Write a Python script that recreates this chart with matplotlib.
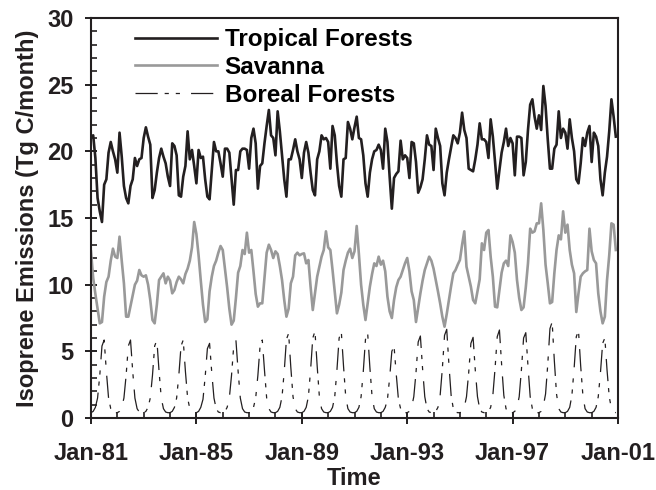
import numpy as np
import matplotlib
matplotlib.use("Agg")
import matplotlib.pyplot as plt
from matplotlib.ticker import MultipleLocator, FixedLocator

# monthly emissions, Jan-81 .. Dec-00 (Tg C/month)
tropical = [
    21.1, 21.2, 19.5, 16.5, 15.5, 14.7, 17.5, 17.9, 19.9, 20.7, 20.0, 19.4,
    18.4, 21.4, 19.6, 17.4, 16.5, 16.1, 17.4, 17.9, 19.5, 18.9, 19.4, 19.5,
    21.0, 21.8, 21.1, 20.5, 16.5, 17.1, 18.4, 19.5, 20.2, 19.6, 19.1, 18.1,
    17.4, 20.6, 20.4, 19.7, 16.7, 16.6, 18.1, 18.9, 21.5, 19.4, 20.1, 18.9,
    17.6, 20.1, 19.5, 19.6, 17.9, 16.6, 16.4, 18.6, 20.7, 20.0, 20.0, 19.1,
    18.1, 20.2, 20.2, 19.9, 17.9, 16.0, 18.6, 18.6, 20.0, 20.2, 20.2, 20.1,
    18.7, 21.0, 21.7, 20.6, 17.2, 18.9, 19.1, 20.6, 21.9, 23.1, 21.2, 21.0,
    19.7, 23.0, 21.5, 19.7, 17.9, 16.6, 19.4, 19.4, 20.1, 20.9, 20.0, 19.4,
    18.0, 19.9, 20.7, 19.9, 18.4, 17.1, 16.7, 19.4, 20.0, 21.2, 20.9, 21.0,
    20.7, 18.7, 21.9, 21.2, 19.1, 17.4, 16.6, 19.4, 19.5, 22.2, 21.7, 20.9,
    21.8, 22.6, 21.0, 20.9, 19.7, 17.6, 16.6, 18.4, 19.4, 20.0, 20.1, 20.5,
    20.1, 18.7, 21.7, 20.7, 18.1, 15.7, 18.0, 18.3, 18.5, 20.8, 19.4, 19.7,
    19.5, 18.0, 20.7, 20.6, 19.2, 16.9, 17.3, 17.9, 19.4, 21.2, 20.5, 20.4,
    18.6, 21.7, 21.0, 20.4, 17.6, 16.7, 18.4, 19.4, 20.3, 21.2, 21.0, 20.6,
    21.4, 22.9, 21.6, 21.0, 18.7, 18.6, 18.5, 19.4, 20.5, 22.1, 20.9, 20.9,
    20.7, 19.5, 22.4, 21.1, 19.2, 17.2, 18.6, 19.9, 20.7, 21.7, 20.4, 21.0,
    20.6, 18.2, 21.1, 21.1, 21.0, 18.2, 19.2, 21.6, 23.5, 23.9, 22.6, 21.7,
    22.7, 21.6, 24.9, 23.4, 20.9, 18.7, 18.7, 20.2, 20.5, 23.0, 21.0, 21.7,
    21.4, 20.2, 22.4, 21.0, 20.0, 17.9, 17.6, 19.1, 21.0, 20.4, 21.4, 21.9,
    19.2, 21.4, 21.1, 20.4, 17.9, 16.7, 18.4, 19.6, 21.5, 23.9, 22.6, 21.1,
]

savanna = [
    12.5, 10.5, 9.3, 8.2, 7.1, 7.2, 9.1, 10.2, 10.6, 11.8, 12.7, 12.1,
    12.0, 13.6, 11.8, 10.1, 7.6, 7.6, 8.4, 9.2, 10.0, 10.3, 11.1, 10.7,
    10.6, 10.7, 10.0, 8.85, 7.35, 7.1, 8.5, 10.35, 10.6, 10.85, 10.1, 10.6,
    10.3, 9.35, 9.6, 10.2, 10.6, 10.4, 10.1, 10.8, 11.2, 11.8, 12.8, 14.7,
    13.8, 12.2, 10.3, 8.5, 7.2, 7.4, 9.5, 10.6, 11.4, 11.8, 12.4, 12.9,
    12.6, 11.2, 9.8, 8.2, 7.0, 7.3, 9.0, 10.9, 11.4, 12.6, 12.3, 13.9,
    12.4, 12.6, 11.0, 9.3, 8.35, 8.6, 8.6, 10.5, 12.4, 13.0, 12.6, 12.0,
    12.5, 12.3, 11.4, 10.35, 8.85, 7.6, 8.2, 10.1, 10.6, 12.2, 12.4, 12.2,
    12.3, 12.35, 11.6, 11.85, 9.85, 8.1, 9.35, 10.6, 11.35, 12.1, 12.6, 14.0,
    12.8, 12.6, 11.1, 9.5, 7.85, 8.5, 9.4, 11.1, 11.8, 12.4, 12.7, 12.0,
    12.5, 14.4, 12.3, 10.0, 8.5, 7.35, 8.6, 9.85, 10.8, 11.6, 11.4, 12.1,
    11.5, 11.8, 11.0, 9.1, 8.0, 7.5, 8.85, 9.8, 10.35, 10.6, 11.1, 11.6,
    12.0, 11.0, 9.5, 8.85, 7.2, 8.3, 9.35, 10.3, 11.1, 11.6, 12.1, 11.8,
    11.2, 10.35, 9.5, 8.6, 7.6, 6.85, 7.8, 8.85, 9.9, 10.85, 11.1, 11.5,
    11.85, 13.0, 14.0, 11.35, 10.6, 9.85, 8.85, 8.6, 9.5, 10.4, 13.1, 12.6,
    13.9, 14.1, 12.1, 10.6, 8.35, 8.3, 9.6, 10.9, 11.6, 11.8, 11.4, 13.7,
    13.2, 12.4, 10.35, 9.0, 8.1, 8.3, 9.8, 11.6, 14.2, 13.9, 14.0, 14.6,
    14.6, 16.1, 14.1, 11.5, 10.1, 8.6, 8.7, 10.85, 12.6, 13.7, 13.4, 15.5,
    13.9, 14.5, 12.6, 11.5, 10.85, 7.95, 9.35, 10.6, 10.85, 11.0, 11.1, 14.2,
    12.5, 11.85, 11.6, 9.35, 8.0, 7.1, 7.6, 10.35, 12.2, 14.6, 14.5, 12.6,
]

boreal = [
    0.4, 0.5, 0.8, 1.5, 3.2, 5.4, 5.85, 3.5, 1.5, 0.7, 0.45, 0.4,
    0.4, 0.5, 0.8, 1.5, 3.2, 5.4, 5.85, 3.5, 1.5, 0.7, 0.45, 0.4,
    0.4, 0.5, 0.8, 1.5, 3.2, 5.4, 5.85, 3.5, 1.5, 0.7, 0.45, 0.4,
    0.4, 0.5, 0.8, 1.5, 3.2, 5.4, 5.85, 3.5, 1.5, 0.7, 0.45, 0.4,
    0.4, 0.5, 0.8, 1.4, 3.1, 5.2, 5.6, 3.4, 1.5, 0.7, 0.45, 0.4,
    0.4, 0.5, 0.8, 1.5, 3.2, 5.4, 5.85, 3.5, 1.5, 0.7, 0.45, 0.4,
    0.4, 0.5, 0.8, 1.5, 3.2, 5.4, 5.85, 3.6, 1.5, 0.7, 0.45, 0.4,
    0.4, 0.5, 0.8, 1.6, 3.5, 5.9, 6.35, 3.8, 1.6, 0.7, 0.45, 0.4,
    0.4, 0.5, 0.8, 1.6, 3.6, 6.0, 6.5, 3.9, 1.6, 0.7, 0.45, 0.4,
    0.4, 0.5, 0.8, 1.6, 3.6, 6.0, 6.45, 3.9, 1.6, 0.7, 0.45, 0.4,
    0.4, 0.5, 0.8, 1.6, 3.5, 5.9, 6.35, 3.8, 1.6, 0.7, 0.45, 0.4,
    0.4, 0.5, 0.8, 1.4, 3.0, 5.0, 5.4, 3.3, 1.4, 0.7, 0.45, 0.4,
    0.4, 0.5, 0.8, 1.6, 3.4, 5.7, 6.15, 3.7, 1.6, 0.7, 0.45, 0.4,
    0.4, 0.5, 0.8, 1.7, 3.7, 6.2, 6.65, 4.0, 1.7, 0.7, 0.45, 0.4,
    0.4, 0.5, 0.8, 1.6, 3.4, 5.6, 6.05, 3.6, 1.6, 0.7, 0.45, 0.4,
    0.4, 0.5, 0.8, 1.7, 3.7, 6.1, 6.6, 4.0, 1.7, 0.7, 0.45, 0.4,
    0.4, 0.5, 0.8, 1.6, 3.6, 6.0, 6.4, 3.9, 1.6, 0.7, 0.45, 0.4,
    0.4, 0.5, 0.9, 1.8, 4.0, 6.7, 7.2, 4.3, 1.8, 0.7, 0.45, 0.4,
    0.4, 0.5, 0.8, 1.7, 3.7, 6.1, 6.55, 3.9, 1.7, 0.7, 0.45, 0.4,
    0.4, 0.5, 0.8, 1.6, 3.4, 5.6, 6.0, 3.6, 1.6, 0.7, 0.45, 0.4,
]

tick_years = ["Jan-81", "Jan-85", "Jan-89", "Jan-93", "Jan-97", "Jan-01"]

plt.rcParams["font.family"] = ["Liberation Sans", "DejaVu Sans"]
plt.rcParams["font.weight"] = "bold"
plt.rcParams["lines.scale_dashes"] = False
ink = "#231f20"

months = np.arange(len(tropical))

fig = plt.figure(figsize=(6.56, 4.90), dpi=100)
ax = fig.add_axes([0.1387, 0.1469, 0.8034, 0.8164])

ax.plot(months, tropical, color=ink, lw=1.9, label="Tropical Forests")
ax.plot(months, savanna, color="#999999", lw=1.9, label="Savanna")
ax.plot(months, boreal, color=ink, lw=0.9, dashes=[16, 5, 3, 5, 3, 8],
        label="Boreal Forests")

ax.set_xlim(0, 240)
ax.set_ylim(0, 30)
ax.xaxis.set_major_locator(FixedLocator(np.arange(0, 241, 48)))
ax.xaxis.set_minor_locator(MultipleLocator(12))
ax.set_xticklabels(tick_years)
ax.yaxis.set_major_locator(MultipleLocator(5))
ax.yaxis.set_minor_locator(MultipleLocator(1))

ax.tick_params(which="major", direction="inout", length=9, width=1.4,
               color=ink, labelsize=17, labelcolor=ink)
ax.tick_params(axis="x", which="major", pad=13)
ax.tick_params(axis="y", which="major", pad=8)
ax.tick_params(which="minor", direction="in", length=4.5, width=1.2, color=ink)
for s in ax.spines.values():
    s.set_linewidth(1.5)
    s.set_color(ink)

ax.set_xlabel("Time", fontsize=17, fontweight="bold", color=ink, labelpad=1)
ax.set_ylabel("Isoprene Emissions (Tg C/month)", fontsize=17,
              fontweight="bold", color=ink, labelpad=6)

ax.legend(loc="upper left", bbox_to_anchor=(0.06, 1.005), frameon=False,
          fontsize=17.5, handlelength=3.4, handletextpad=0.3, labelspacing=0.2,
          borderaxespad=0.1)

fig.savefig("out.png", dpi=100)
